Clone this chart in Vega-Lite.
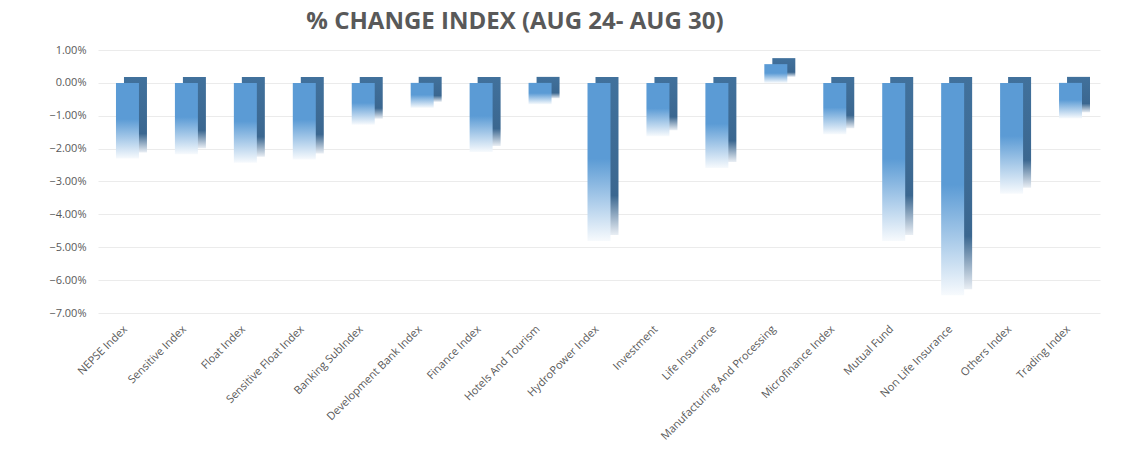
{
  "$schema": "https://vega.github.io/schema/vega-lite/v6.json",
  "autosize": {"type": "none"},
  "padding": {"left": 98, "top": 50, "right": 25, "bottom": 141},
  "width": 1002,
  "height": 263,
  "title": {
    "text": "% CHANGE INDEX (AUG 24- AUG 30)",
    "font": "Open Sans",
    "fontSize": 24,
    "fontWeight": "bold",
    "color": "#595959",
    "anchor": "middle",
    "dx": -84,
    "offset": 10
  },
  "config": {
    "view": {"stroke": "transparent"},
    "font": "Open Sans"
  },
  "data": {
    "values": [
      {"Index": "NEPSE Index", "Change": -0.0230},
      {"Index": "Sensitive Index", "Change": -0.0217},
      {"Index": "Float Index", "Change": -0.0243},
      {"Index": "Sensitive Float Index", "Change": -0.0233},
      {"Index": "Banking SubIndex", "Change": -0.0127},
      {"Index": "Development Bank Index", "Change": -0.0076},
      {"Index": "Finance Index", "Change": -0.0210},
      {"Index": "Hotels And Tourism", "Change": -0.0065},
      {"Index": "HydroPower Index", "Change": -0.0481},
      {"Index": "Investment", "Change": -0.0162},
      {"Index": "Life Insurance", "Change": -0.0259},
      {"Index": "Manufacturing And Processing", "Change": 0.0057},
      {"Index": "Microfinance Index", "Change": -0.0156},
      {"Index": "Mutual Fund", "Change": -0.0481},
      {"Index": "Non Life Insurance", "Change": -0.0646},
      {"Index": "Others Index", "Change": -0.0337},
      {"Index": "Trading Index", "Change": -0.0108}
    ]
  },
  "encoding": {
    "x": {
      "field": "Index",
      "type": "nominal",
      "sort": null,
      "title": null,
      "scale": {"paddingInner": 0.61, "paddingOuter": 0.305},
      "axis": {
        "labelAngle": -45,
        "labelColor": "#595959",
        "labelFontSize": 11,
        "labelPadding": 10,
        "labelOffset": -6,
        "domain": false,
        "ticks": false,
        "grid": false
      }
    },
    "y": {
      "field": "Change",
      "type": "quantitative",
      "title": null,
      "scale": {"domain": [-0.07, 0.01], "nice": false},
      "axis": {
        "values": [-0.07, -0.06, -0.05, -0.04, -0.03, -0.02, -0.01, 0, 0.01],
        "format": ".2%",
        "labelColor": "#595959",
        "labelFontSize": 11,
        "labelPadding": 12,
        "domain": false,
        "ticks": false,
        "gridColor": "#ebebeb",
        "gridWidth": 1.2
      }
    },
    "y2": {"datum": 0}
  },
  "layer": [
    {
      "mark": {
        "type": "bar",
        "xOffset": 8,
        "yOffset": -6,
        "y2Offset": -6,
        "color": {
          "gradient": "linear",
          "x1": 0, "y1": 0, "x2": 0, "y2": 1,
          "stops": [
            {"offset": 0, "color": "#41719c"},
            {"offset": 0.75, "color": "#3b6790"},
            {"offset": 1, "color": "#e9eef4"}
          ]
        }
      }
    },
    {
      "mark": {
        "type": "bar",
        "color": {
          "gradient": "linear",
          "x1": 0, "y1": 0, "x2": 0, "y2": 1,
          "stops": [
            {"offset": 0, "color": "#5b9bd5"},
            {"offset": 0.48, "color": "#5b9bd5"},
            {"offset": 1, "color": "#f7fafd"}
          ]
        }
      }
    }
  ]
}
